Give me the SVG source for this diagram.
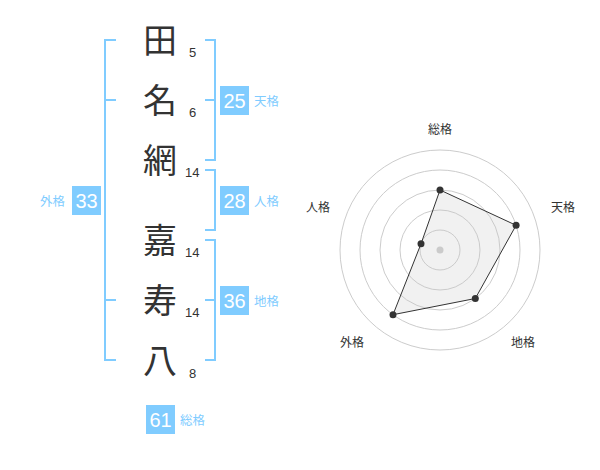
<svg xmlns="http://www.w3.org/2000/svg" width="600" height="470" viewBox="0 0 600 470">
<style>
.ch{font-family:"Noto Sans CJK JP","Noto Sans CJK SC",sans-serif;font-size:34px;fill:#333;text-anchor:middle}
.st{font-family:"Liberation Sans",Arial,sans-serif;font-size:13px;fill:#333}
.br{fill:none;stroke:#80ccff;stroke-width:2}
.bx{fill:#80ccff}
.bn{font-family:"Liberation Sans",Arial,sans-serif;font-size:20px;fill:#fff;text-anchor:middle}
.bl{font-family:"Noto Sans CJK JP",sans-serif;font-size:12.5px;fill:#80ccff}
.ax{font-family:"Noto Sans CJK JP",sans-serif;font-size:12px;fill:#333;text-anchor:middle}
.ring{fill:none;stroke:#ccc;stroke-width:1}
</style>
<rect width="600" height="470" fill="#fff"/>
<g id="chars">
<g id="c1"><text class="ch" x="160" y="53">田</text><text class="st" x="189" y="57">5</text></g>
<g id="c2"><text class="ch" x="160" y="113">名</text><text class="st" x="189" y="117">6</text></g>
<g id="c3"><text class="ch" x="160" y="173">網</text><text class="st" x="185" y="177">14</text></g>
<g id="c4"><text class="ch" x="160" y="253">嘉</text><text class="st" x="185" y="257">14</text></g>
<g id="c5"><text class="ch" x="160" y="313">寿</text><text class="st" x="185" y="317">14</text></g>
<g id="c6"><text class="ch" x="160" y="373">八</text><text class="st" x="189" y="378">8</text></g>
</g>
<g id="connectors">
<path class="br" d="M116,40H105V360H116M105,100H116M105,300H116"/>
<path class="br" d="M205,40H215V160H205M215,100H205"/>
<path class="br" d="M205,170H215V230H205"/>
<path class="br" d="M205,240H215V360H205M215,300H205"/>
</g>
<g id="tenkaku"><rect class="bx" x="220" y="86" width="29" height="29"/><text class="bn" x="234.5" y="108">25</text><text class="bl" x="254" y="106">天格</text></g>
<g id="jinkaku"><rect class="bx" x="220" y="186" width="29" height="29"/><text class="bn" x="234.5" y="208">28</text><text class="bl" x="254" y="206">人格</text></g>
<g id="gaikaku"><rect class="bx" x="72" y="186" width="29" height="29"/><text class="bn" x="86.5" y="208">33</text><text class="bl" x="40" y="206">外格</text></g>
<g id="chikaku"><rect class="bx" x="220" y="286" width="29" height="29"/><text class="bn" x="234.5" y="308">36</text><text class="bl" x="254" y="306">地格</text></g>
<g id="soukaku"><rect class="bx" x="146" y="405" width="29" height="29"/><text class="bn" x="160.5" y="427">61</text><text class="bl" x="180" y="425">総格</text></g>
<g id="radar">
<circle class="ring" cx="440" cy="250" r="20"/>
<circle class="ring" cx="440" cy="250" r="40"/>
<circle class="ring" cx="440" cy="250" r="60"/>
<circle class="ring" cx="440" cy="250" r="80"/>
<circle class="ring" cx="440" cy="250" r="100"/>
<circle cx="440" cy="250" r="3.5" fill="#ccc"/>
<polygon points="440,190 516.1,225.3 475.3,298.5 393,314.7 421,243.8" fill="rgba(200,200,200,0.25)" stroke="#333" stroke-width="1"/>
<g fill="#333">
<circle cx="440" cy="190" r="3.5"/>
<circle cx="516.1" cy="225.3" r="3.5"/>
<circle cx="475.3" cy="298.5" r="3.5"/>
<circle cx="393" cy="314.7" r="3.5"/>
<circle cx="421" cy="243.8" r="3.5"/>
</g>
<text class="ax" x="440" y="134">総格</text>
<text class="ax" x="563" y="212">天格</text>
<text class="ax" x="318" y="212">人格</text>
<text class="ax" x="523" y="347">地格</text>
<text class="ax" x="352" y="347">外格</text>
</g>
</svg>
